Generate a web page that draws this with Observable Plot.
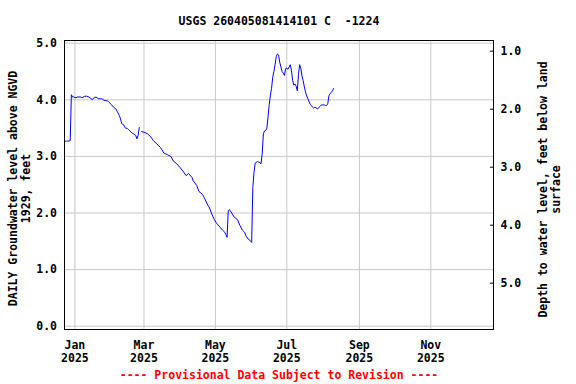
<!DOCTYPE html>
<html><head><meta charset="utf-8">
<script src="https://cdn.jsdelivr.net/npm/d3@7"></script>
<script src="https://cdn.jsdelivr.net/npm/@observablehq/plot@0.6"></script>
<style>html,body{margin:0;padding:0;background:#fff}</style>
</head><body><div id="chart"></div>
<script>
const title = "USGS 260405081414101 C  -1224";
const leftTitle = "DAILY Groundwater level above NGVD\n1929, feet";
const rightTitle = "Depth to water level, feet below land\nsurface";
const footer = "---- Provisional Data Subject to Revision ----";

const dates = [
 "2024-12-23","2024-12-24","2024-12-25","2024-12-26","2024-12-27","2024-12-28","2024-12-29","2024-12-30","2024-12-31",
 "2025-01-02","2025-01-03","2025-01-06","2025-01-07","2025-01-09","2025-01-11","2025-01-13","2025-01-16","2025-01-17",
 "2025-01-19","2025-01-21","2025-01-23","2025-01-24","2025-01-26","2025-01-29","2025-01-30","2025-02-01","2025-02-03",
 "2025-02-05","2025-02-06","2025-02-08","2025-02-09","2025-02-10","2025-02-12","2025-02-13","2025-02-15","2025-02-16",
 "2025-02-18","2025-02-19","2025-02-20","2025-02-22","2025-02-23","2025-02-24","2025-02-25","2025-02-26","2025-02-27",
 "2025-03-02","2025-03-04","2025-03-07","2025-03-09","2025-03-12","2025-03-15","2025-03-18","2025-03-21","2025-03-24",
 "2025-03-26","2025-03-29","2025-04-01","2025-04-04","2025-04-06","2025-04-08","2025-04-11","2025-04-12","2025-04-15",
 "2025-04-17","2025-04-20","2025-04-22","2025-04-24","2025-04-26","2025-04-28","2025-04-30","2025-05-02","2025-05-05",
 "2025-05-07","2025-05-09","2025-05-10","2025-05-11","2025-05-12","2025-05-13","2025-05-15","2025-05-17","2025-05-20",
 "2025-05-22","2025-05-24","2025-05-26","2025-05-27","2025-05-29","2025-05-31","2025-06-01","2025-06-02","2025-06-03",
 "2025-06-04","2025-06-06","2025-06-08","2025-06-09","2025-06-10","2025-06-11","2025-06-12","2025-06-13","2025-06-14",
 "2025-06-15","2025-06-16","2025-06-17","2025-06-18","2025-06-19","2025-06-20","2025-06-21","2025-06-22","2025-06-23",
 "2025-06-24","2025-06-25","2025-06-26","2025-06-27","2025-06-28","2025-06-29","2025-06-30","2025-07-01","2025-07-02",
 "2025-07-03","2025-07-04","2025-07-05","2025-07-06","2025-07-07","2025-07-08","2025-07-09","2025-07-10","2025-07-11",
 "2025-07-12","2025-07-13","2025-07-14","2025-07-15","2025-07-16","2025-07-17","2025-07-18","2025-07-19","2025-07-20",
 "2025-07-21","2025-07-22","2025-07-23","2025-07-24","2025-07-25","2025-07-26","2025-07-27","2025-07-28","2025-07-29",
 "2025-07-30","2025-07-31","2025-08-01","2025-08-02","2025-08-03","2025-08-04","2025-08-05","2025-08-06","2025-08-07",
 "2025-08-08","2025-08-09","2025-08-10"
];
const levels = [
 3.28,3.27,3.27,3.27,3.27,3.28,4.09,4.05,4.05,
 4.035,4.05,4.05,4.035,4.06,4.065,4.05,4.00,4.03,
 4.05,4.02,4.02,4.02,3.99,3.98,3.96,3.92,3.87,
 3.84,3.80,3.72,3.66,3.58,3.55,3.505,3.49,3.47,
 3.43,3.41,3.40,3.37,3.31,3.37,3.51,null,3.44,
 3.42,3.40,3.34,3.28,3.22,3.16,3.06,3.03,3.00,
 2.92,2.87,2.80,2.72,2.66,2.70,2.63,2.57,2.49,
 2.38,2.33,2.25,2.16,2.09,1.98,1.89,1.82,1.75,
 1.70,1.66,1.62,1.57,2.04,2.06,2.00,1.93,1.88,
 1.78,1.70,1.66,1.60,1.54,1.51,1.48,2.45,2.72,
 2.88,2.91,2.89,2.87,3.05,3.40,3.45,3.46,3.50,
 3.70,3.92,4.08,4.20,4.40,4.50,4.62,4.76,4.81,
 4.79,4.66,4.58,4.50,4.47,4.43,4.55,4.56,4.54,
 4.58,4.62,4.52,4.34,4.26,4.28,4.24,4.16,4.45,
 4.62,4.55,4.42,4.34,4.23,4.14,4.07,4.02,3.97,
 3.92,3.90,3.87,3.85,3.87,3.86,3.84,3.85,3.88,
 3.90,3.91,3.91,3.91,3.90,3.90,3.93,4.07,4.11,
 4.13,4.16,4.20
];

const levelTicks = [0, 1, 2, 3, 4, 5];
const depthTicks = [1, 2, 3, 4, 5];
const monthTicks = ["2025-01-01","2025-03-01","2025-05-01","2025-07-01","2025-09-01","2025-11-01"];
const monthLabels = ["Jan\n2025","Mar\n2025","May\n2025","Jul\n2025","Sep\n2025","Nov\n2025"];

// right axis: depth below land surface, mapped onto the level scale
const depthToLevel = d => 5.884 - 1.0248 * d;
const levelToDepth = v => (5.884 - v) / 1.0248;

const data = dates.map((d, i) => ({date: new Date(d), level: levels[i]}));
const monthDates = monthTicks.map(d => new Date(d));
const labelByTime = new Map(monthDates.map((d, i) => [+d, monthLabels[i]]));
const depthPos = depthTicks.map(depthToLevel);

const chart = Plot.plot({
  width: 576, height: 384,
  marginTop: 40, marginBottom: 55, marginLeft: 64, marginRight: 83,
  style: {fontFamily: "'DejaVu Sans Mono', monospace", fontSize: "11.5px", fontWeight: "bold",
          background: "#fff", color: "#000", whiteSpace: "pre"},
  x: {type: "utc", domain: [new Date(Date.UTC(2024, 11, 23, 3)), new Date(Date.UTC(2025, 11, 24, 14))], axis: null},
  y: {domain: [-0.058, 5.048]},
  marks: [
    Plot.gridY(levelTicks, {stroke: "#c8c8c8", strokeOpacity: 1}),
    Plot.gridX(monthDates, {stroke: "#c8c8c8", strokeOpacity: 1}),
    Plot.lineY(data, {x: "date", y: "level", stroke: "#0000ff", strokeWidth: 1}),
    Plot.frame({stroke: "#000"}),
    Plot.axisY(levelTicks, {anchor: "left", tickSize: 0, tickPadding: 7.5, tickFormat: d => d.toFixed(1), label: null}),
    Plot.axisY(depthPos, {anchor: "right", tickSize: 0, tickPadding: 7, tickFormat: v => levelToDepth(v).toFixed(1), label: null}),
    Plot.tickY(depthPos, {y: d => d, insetLeft: 426, stroke: "#000"}),
    Plot.text(monthDates, {x: d => d, text: d => labelByTime.get(+d), frameAnchor: "bottom", lineAnchor: "middle", dy: 22, lineHeight: 1.13}),
    Plot.text([title], {text: d => d, frameAnchor: "top", lineAnchor: "middle", dy: -19}),
    Plot.text([footer], {text: d => d, frameAnchor: "bottom", lineAnchor: "middle", dy: 46, fill: "#ff0000"}),
    Plot.text([leftTitle], {text: d => d, frameAnchor: "left", textAnchor: "middle", lineAnchor: "middle", rotate: -90, dx: -45.5, dy: 3.5, lineHeight: 1.13}),
    Plot.text([rightTitle], {text: d => d, frameAnchor: "right", textAnchor: "middle", lineAnchor: "middle", rotate: -90, dx: 56, dy: 4.5, lineHeight: 1.13})
  ]
});
document.getElementById("chart").append(chart);
</script>
</body></html>
